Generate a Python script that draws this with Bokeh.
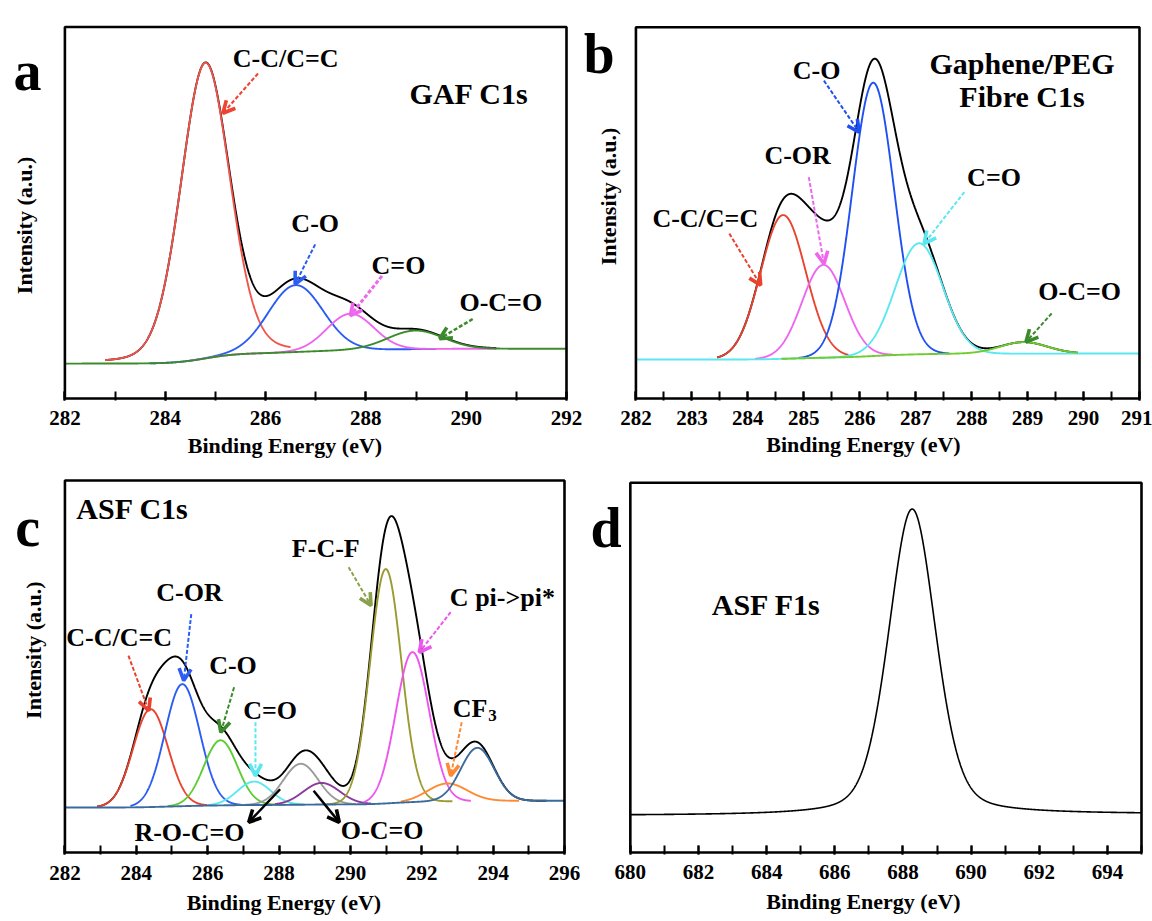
import numpy as np
from bokeh.plotting import figure
from bokeh.layouts import row, column
from bokeh.models import Label, Arrow, OpenHead, FixedTicker, Range1d, BoxAnnotation
from bokeh.embed import file_html
from bokeh.resources import INLINE

# ---------------------------------------------------------------- data
# (a) GAF C1s: fitted components (binding energy eV, height a.u., FWHM eV)
a_names = ["C-C/C=C", "C-O", "C=O", "O-C=O"]
a_center = [284.80, 286.60, 287.69, 288.99]
a_height = [79.6, 18.0, 9.8, 5.0]
a_fwhm = [1.15, 1.28, 1.10, 1.30]
a_lorentz = [0.15, 0.0, 0.0, 0.0]
a_background = [9.4, 13.4]

# (b) Graphene/PEG fibre C1s
b_names = ["C-C/C=C", "C-OR", "C-O", "C=O", "O-C=O"]
b_center = [284.63, 285.35, 286.24, 287.06, 288.93]
b_height = [38.7, 25.0, 73.6, 29.9, 3.1]
b_fwhm = [0.95, 0.90, 0.88, 1.00, 1.00]
b_lorentz = [0.0, 0.0, 0.0, 0.0, 0.0]
b_background = [10.5, 12.1]

# (c) ASF C1s
c_names = ["C-C/C=C", "C-OR", "C-O", "C=O", "R-O-C=O", "O-C=O",
           "F-C-F", "C pi->pi*", "CF3", "CF3 (293.6)"]
c_center = [284.40, 285.29, 286.36, 287.30, 288.61, 289.19,
            290.99, 291.74, 292.72, 293.56]
c_height = [26.3, 32.8, 17.5, 6.3, 11.0, 5.8, 63.0, 40.3, 4.8, 14.3]
c_fwhm = [1.15, 1.15, 1.10, 1.10, 1.15, 1.20, 1.03, 1.10, 1.30, 1.10]
c_lorentz = [0.0] * 10
c_background = [12.1, 13.9]

# (d) ASF F1s
d_center = [688.27]
d_height = [82.7]
d_fwhm = [1.63]
d_lorentz = [0.30]
d_background = [10.0, 10.4]

# ---------------------------------------------------------------- styling
SERIF = "Times New Roman, Liberation Serif, serif"

a_style = dict(
    colors=["#f0544a", "#2b5df2", "#ee66ee", "#3b8a2b"],
    spans=[(282.8, 286.5), (283.7, 289.4), (284.5, 290.6), (282.0, 292.0)],
    env_span=(282.8, 290.6),
)
b_style = dict(
    colors=["#e8432f", "#ee66ee", "#1f50f2", "#5ae8f0", "#6fcc2f"],
    spans=[(283.45, 285.8), (284.13, 286.6), (284.9, 287.6), (282.0, 291.0), (284.6, 289.9)],
    env_span=(283.45, 289.9),
)
c_style = dict(
    colors=["#e8432f", "#2b5df2", "#5ccc33", "#5ae8f0", "#9a9a9a", "#8a3a9a",
            "#9a9a30", "#ee55ee", "#ff8a33", "#3a6b9c"],
    spans=[(282.9, 286.0), (283.83, 286.94), (284.87, 288.19), (286.0, 288.71),
           (286.84, 290.16), (287.88, 290.58), (289.33, 292.86), (290.37, 293.38),
           (291.41, 294.73), (282.0, 296.0)],
    env_span=(282.9, 295.5),
)
d_style = dict(colors=[], spans=[], env_span=(680.0, 695.0))


def profile(x, center, height, fwhm, mix):
    """Pseudo-Voigt line shape of one fitted component."""
    g = np.exp(-4.0 * np.log(2.0) * ((x - center) / fwhm) ** 2)
    l = 1.0 / (1.0 + (2.0 * (x - center) / fwhm) ** 2)
    return height * ((1.0 - mix) * g + mix * l)


def make_figure(w, h, xr, box_px, major, minor, standoffs):
    """Figure whose plotting frame also covers the panel letter and the
    intensity caption; the boxed spectrum area spans xr horizontally and
    0..100 vertically, placed at box_px = (left, right, top, bottom)."""
    bl, br, bt, bb = box_px
    pad_r, pad_b = 3, 2
    kx = (br - bl) / (xr[1] - xr[0])
    ky = (bb - bt) / 100.0
    x_range = Range1d(xr[0] - bl / kx, xr[1] + pad_r / kx)
    y_range = Range1d(-pad_b / ky, 100.0 + bt / ky)
    p = figure(width=w, height=h, x_range=x_range, y_range=y_range,
               output_backend="svg", toolbar_location=None,
               min_border_left=0, min_border_top=0,
               min_border_right=int(round(w - br - pad_r)),
               min_border_bottom=int(round(h - bb - pad_b)))
    p.xgrid.visible = False
    p.ygrid.visible = False
    p.background_fill_color = "white"
    p.border_fill_color = "white"
    p.outline_line_color = None
    p.yaxis.visible = False

    xa = p.xaxis[0]
    xa.ticker = FixedTicker(ticks=major, minor_ticks=minor)
    xa.axis_line_color = None
    xa.major_tick_in = 9
    xa.major_tick_out = 0
    xa.minor_tick_in = 9
    xa.minor_tick_out = 0
    xa.major_tick_line_width = 2
    xa.minor_tick_line_width = 2
    xa.major_tick_line_color = "black"
    xa.minor_tick_line_color = "black"
    xa.major_label_text_font = SERIF
    xa.major_label_text_font_style = "bold"
    xa.major_label_text_font_size = "21px"
    xa.major_label_text_color = "black"
    xa.major_label_standoff = standoffs[0]
    xa.axis_label = "Binding Energy (eV)"
    xa.axis_label_text_font = SERIF
    xa.axis_label_text_font_style = "bold"
    xa.axis_label_text_font_size = "22px"
    xa.axis_label_text_color = "black"
    xa.axis_label_standoff = standoffs[1]

    # boxed spectrum area
    p.add_layout(BoxAnnotation(left=xr[0], right=xr[1], bottom=0, top=100,
                               fill_color=None, fill_alpha=0,
                               line_color="black", line_alpha=1.0, line_width=2.6))
    return p


def draw_fit(p, xr, centers, heights, fwhms, mixes, bg, style, env_color="black", env_width=1.9):
    x = np.linspace(xr[0], xr[1], 3000)
    comps = [profile(x, c, h, f, m) for c, h, f, m in zip(centers, heights, fwhms, mixes)]
    total = np.sum(comps, axis=0)
    # Shirley-type step background following the cumulative peak area
    cum = np.cumsum(total)
    background = bg[0] + (bg[1] - bg[0]) * cum / cum[-1]
    lo, hi = style["env_span"]
    m = (x >= lo) & (x <= hi)
    p.line(x[m], (background + total)[m], line_color=env_color, line_width=env_width)
    for comp, color, (s0, s1) in zip(comps, style["colors"], style["spans"]):
        m = (x >= s0) & (x <= s1)
        p.line(x[m], (background + comp)[m], line_color=color, line_width=1.9)


def text(p, x, y, s, size="26px", align="center", baseline="middle", angle=0.0):
    p.add_layout(Label(x=x, y=y, text=s, text_font=SERIF, text_font_style="bold",
                       text_font_size=size, text_color="black", angle=angle,
                       text_align=align, text_baseline=baseline))


def ylabel(p, x, y):
    text(p, x, y, "Intensity (a.u.)", size="22px", angle=np.pi / 2)


def arrow(p, x0, y0, x1, y1, color, dash="4 2", width=2.0, head=12):
    p.add_layout(Arrow(x_start=x0, y_start=y0, x_end=x1, y_end=y1,
                       line_color=color, line_width=width, line_dash=dash,
                       end=OpenHead(size=head, line_color=color, line_width=3.6)))


# ---------------------------------------------------------------- panel a
pa = make_figure(584, 460, (282, 292), (64.4, 566.0, 26.7, 400.0),
                 list(range(282, 293, 2)), list(range(282, 293)), (10, 5))
draw_fit(pa, (282, 292), a_center, a_height, a_fwhm, a_lorentz, a_background, a_style)
text(pa, 280.975, 88.2, "a", size="56px", align="left", baseline="alphabetic")
ylabel(pa, 281.195, 46.6)
text(pa, 290.06, 82.1, "GAF C1s", size="30px")
text(pa, 286.40, 91.5, "C-C/C=C")
arrow(pa, 285.85, 87.5, 285.15, 76.8, "#ee4433")
text(pa, 286.99, 47.1, "C-O")
arrow(pa, 286.99, 41.5, 286.59, 30.8, "#2b5df2")
text(pa, 288.65, 35.7, "C=O")
arrow(pa, 288.32, 33.0, 287.69, 22.3, "#ee66ee", width=3.0)
text(pa, 290.69, 25.9, "O-C=O")
arrow(pa, 290.13, 21.4, 289.47, 16.1, "#3b8a2b", width=2.5)

# ---------------------------------------------------------------- panel b
pb = make_figure(568, 460, (282, 291), (51.4, 554.7, 26.7, 398.3),
                 list(range(282, 292)), [282 + 0.5 * i for i in range(19)], (10, 4))
draw_fit(pb, (282, 291), b_center, b_height, b_fwhm, b_lorentz, b_background, b_style)
text(pb, 281.065, 92.8, "b", size="56px", align="left", baseline="alphabetic")
ylabel(pb, 281.515, 54.4)
text(pb, 288.90, 90.1, "Gaphene/PEG", size="30px")
text(pb, 288.90, 81.2, "Fibre C1s", size="30px")
text(pb, 285.23, 88.3, "C-O")
arrow(pb, 285.36, 85.6, 285.99, 71.7, "#1f50f2")
text(pb, 284.89, 65.5, "C-OR")
arrow(pb, 285.09, 59.6, 285.36, 36.3, "#ee66ee")
text(pb, 283.24, 48.4, "C-C/C=C")
arrow(pb, 283.67, 44.4, 284.23, 30.5, "#e8432f")
text(pb, 288.40, 59.6, "C=O")
arrow(pb, 287.87, 55.6, 287.15, 41.7, "#5ae8f0")
text(pb, 289.93, 28.7, "O-C=O")
arrow(pb, 289.43, 22.9, 288.97, 15.2, "#3b8a2b")

# ---------------------------------------------------------------- panel c
pc = make_figure(582, 461, (282, 296), (64.4, 563.7, 20.0, 391.7),
                 list(range(282, 297, 2)), list(range(282, 297)), (11, 7))
draw_fit(pc, (282, 296), c_center, c_height, c_fwhm, c_lorentz, c_background, c_style)
text(pc, 280.61, 87.4, "c", size="56px", align="left", baseline="alphabetic")
ylabel(pc, 281.108, 54.4)
text(pc, 282.32, 92.4, "ASF C1s", size="30px", align="left")
text(pc, 283.52, 57.8, "C-C/C=C")
arrow(pc, 283.78, 52.9, 284.35, 38.1, "#e8432f")
text(pc, 285.49, 70.0, "C-OR")
arrow(pc, 285.54, 64.1, 285.33, 46.2, "#2b5df2")
text(pc, 286.71, 50.2, "C-O")
arrow(pc, 286.74, 44.4, 286.37, 32.3, "#3b8a2b")
text(pc, 287.75, 38.1, "C=O")
arrow(pc, 287.34, 35.0, 287.34, 20.6, "#5ae8f0")
text(pc, 289.31, 81.6, "F-C-F")
arrow(pc, 289.95, 76.7, 290.58, 66.4, "#8aa04a")
text(pc, 294.26, 68.6, "C pi->pi*")
arrow(pc, 292.81, 64.6, 291.93, 53.8, "#ee55ee")
text(pc, 292.87, 38.6, "CF", align="left", baseline="alphabetic")
text(pc, 293.86, 36.8, "3", size="17px", align="left", baseline="alphabetic")
arrow(pc, 293.12, 35.0, 292.81, 20.6, "#ff8a33")
text(pc, 285.49, 5.4, "R-O-C=O")
arrow(pc, 288.03, 17.0, 287.15, 8.1, "black", dash="solid", width=2.5)
text(pc, 290.89, 5.8, "O-C=O")
arrow(pc, 288.97, 16.6, 289.69, 8.1, "black", dash="solid", width=2.5)

# ---------------------------------------------------------------- panel d
pd_ = make_figure(570, 461, (680, 695), (47.8, 558.6, 22.7, 399.0),
                  list(range(680, 695, 2)), list(range(680, 696)), (10, 7))
draw_fit(pd_, (680, 695), d_center, d_height, d_fwhm, d_lorentz, d_background, d_style,
         env_width=1.6)
text(pd_, 678.83, 87.9, "d", size="56px", align="left", baseline="alphabetic")
text(pd_, 683.99, 67.0, "ASF F1s", size="30px")

layout = column(row(pa, pb), row(pc, pd_))
open("out.html", "w").write(file_html(layout, INLINE))
